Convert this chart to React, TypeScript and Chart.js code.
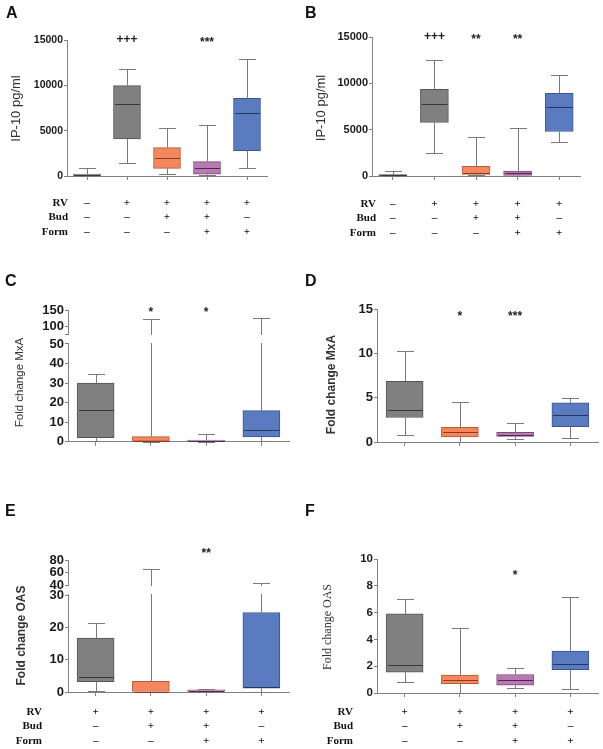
import React, { useEffect, useRef } from "react";
import { Chart, registerables } from "chart.js";
Chart.register(...registerables);

const SANS = "'Liberation Sans', Arial, Helvetica, sans-serif";
const SERIF = "'Liberation Serif', 'Times New Roman', Times, serif";

// ---------- condition rows under the x axis ----------
const rowNames = ["RV", "Bud", "Form"];
const rv5 = ["–", "+", "+", "+", "+"];
const bud5 = ["–", "–", "+", "+", "–"];
const form5 = ["–", "–", "–", "+", "+"];
const rv4 = ["+", "+", "+", "+"];
const bud4 = ["–", "+", "+", "–"];
const form4 = ["–", "–", "+", "+"];

// ---------- Panel A : IP-10 pg/ml ----------
const aMin = [0, 1400, 220, 75, 850];
const aQ1 = [20, 4080, 845, 200, 2795];
const aMed = [100, 7980, 2020, 920, 6985];
const aQ3 = [220, 9960, 3125, 1580, 8570];
const aMax = [850, 11760, 5330, 5625, 12900];
const aMarks = ["", "+++", "", "***", ""];
const aTicks = [0, 5000, 10000, 15000];

// ---------- Panel B : IP-10 pg/ml ----------
const bMin = [0, 2490, 100, 0, 3640];
const bQ1 = [10, 5770, 180, 70, 4800];
const bMed = [80, 7720, 290, 360, 7465];
const bQ3 = [150, 9340, 1045, 540, 8910];
const bMax = [500, 12480, 4255, 5230, 10930];
const bMarks = ["", "+++", "**", "**", ""];
const bTicks = [0, 5000, 10000, 15000];

// ---------- Panel C : Fold change MxA (broken axis) ----------
const cMin = [0.3, 0, 0, 0.3];
const cQ1 = [2.0, 0, 0.1, 2.4];
const cMed = [16.2, 0.3, 0.5, 6.0];
const cQ3 = [30, 2.6, 0.85, 15.9];
const cMax = [34.6, 121, 3.75, 124];
const cMarks = ["", "*", "*", ""];
const cLowerTicks = [0, 10, 20, 30, 40, 50];
const cUpperTicks = [100, 150];

// ---------- Panel D : Fold change MxA ----------
const dMin = [0.83, 0, 0.34, 0.49];
const dQ1 = [2.76, 0.57, 0.64, 1.74];
const dMed = [3.59, 1.13, 0.83, 3.02];
const dQ3 = [6.84, 1.66, 1.1, 4.42];
const dMax = [10.28, 4.53, 2.19, 4.99];
const dMarks = ["", "*", "***", ""];
const dTicks = [0, 5, 10, 15];

// ---------- Panel E : Fold change OAS (broken axis) ----------
const eMin = [0.2, 0, 0.1, 0.1];
const eQ1 = [3.2, 0, 0.15, 1.15];
const eMed = [4.6, 0.15, 0.4, 1.65];
const eQ3 = [16.7, 3.3, 0.7, 24.6];
const eMax = [21.2, 65, 0.95, 42.7];
const eMarks = ["", "", "**", ""];
const eLowerTicks = [0, 10, 20, 30];
const eUpperTicks = [40, 60, 80];

// ---------- Panel F : Fold change OAS ----------
const fMin = [0.8, 0, 0.38, 0.28];
const fQ1 = [1.55, 0.7, 0.58, 1.75];
const fMed = [2.1, 1.0, 1.0, 2.2];
const fQ3 = [5.9, 1.33, 1.38, 3.13];
const fMax = [7.0, 4.83, 1.88, 7.2];
const fMarks = ["", "", "*", ""];
const fTicks = [0, 2, 4, 6, 8, 10];

// ---------- styles ----------
const PALETTE = [
  { fill: "#808080", border: "#555555", median: "#383838" }, // grey
  { fill: "#F4875E", border: "#B55A3A", median: "#8A3B22" }, // orange
  { fill: "#B97AB3", border: "#7D4A78", median: "#4D2A4A" }, // purple
  { fill: "#5B7BC0", border: "#3B5590", median: "#24375F" }, // blue
];
const colors5 = [0, 0, 1, 2, 3];
const colors4 = [0, 1, 2, 3];
const AXIS = "#808080";
const WHISKER = "#7a7a7a";

type Spec = {
  letter: string; left: number; top: number; w: number; h: number;
  L: number; R: number; T: number; B: number;
  mins: number[]; q1: number[]; med: number[]; q3: number[]; maxs: number[];
  colors: number[]; marks: string[]; markY: number;
  lowerMax: number; lowerTicks: number[];
  upper?: { min: number; max: number; ticks: number[]; px: number };
  rows?: string[][]; rowX?: number; xPad: number;
  boxW: number; capW: number; yTickSize: number;
  title: string; titleFont: string; titleX: number; titleY: number;
  letterX: number; letterY: number;
};

const specs: Spec[] = [
  {
    letter: "A", left: 0, top: 0, w: 300, h: 250, L: 67, R: 267, T: 40, B: 176,
    mins: aMin, q1: aQ1, med: aMed, q3: aQ3, maxs: aMax, colors: colors5, marks: aMarks, markY: 15000,
    lowerMax: 15000, lowerTicks: aTicks, rows: [rv5, bud5, form5], rowX: 68, xPad: 16,
    boxW: 27, capW: 17, yTickSize: 10.5,
    title: "IP-10 pg/ml", titleFont: `13px ${SANS}`, titleX: 16.7, titleY: 108.5, letterX: 6, letterY: 18,
  },
  {
    letter: "B", left: 300, top: 0, w: 303, h: 250, L: 72, R: 280, T: 37, B: 176,
    mins: bMin, q1: bQ1, med: bMed, q3: bQ3, maxs: bMax, colors: colors5, marks: bMarks, markY: 15000,
    lowerMax: 15000, lowerTicks: bTicks, rows: [rv5, bud5, form5], rowX: 76, xPad: 17,
    boxW: 28, capW: 17, yTickSize: 11,
    title: "IP-10 pg/ml", titleFont: `13px ${SANS}`, titleX: 21.7, titleY: 108, letterX: 5, letterY: 18,
  },
  {
    letter: "C", left: 0, top: 250, w: 300, h: 250, L: 68, R: 289, T: 60, B: 191.7,
    mins: cMin, q1: cQ1, med: cMed, q3: cQ3, maxs: cMax, colors: colors4, marks: cMarks, markY: 150,
    lowerMax: 55.1, lowerTicks: cLowerTicks, upper: { min: 75, max: 150, ticks: cUpperTicks, px: 24 },
    xPad: 8, boxW: 37, capW: 17, yTickSize: 13,
    title: "Fold change MxA", titleFont: `11.5px ${SANS}`, titleX: 20, titleY: 132.5, letterX: 5, letterY: 36,
  },
  {
    letter: "D", left: 300, top: 250, w: 303, h: 250, L: 77, R: 298, T: 59, B: 192,
    mins: dMin, q1: dQ1, med: dMed, q3: dQ3, maxs: dMax, colors: colors4, marks: dMarks, markY: 14.5,
    lowerMax: 15, lowerTicks: dTicks, xPad: 8, boxW: 37, capW: 17, yTickSize: 13,
    title: "Fold change MxA", titleFont: `bold 12px ${SANS}`, titleX: 31.7, titleY: 134.5, letterX: 5, letterY: 36,
  },
  {
    letter: "E", left: 0, top: 500, w: 300, h: 249, L: 68, R: 289, T: 60, B: 192,
    mins: eMin, q1: eQ1, med: eMed, q3: eQ3, maxs: eMax, colors: colors4, marks: eMarks, markY: 95,
    lowerMax: 33.1, lowerTicks: eLowerTicks, upper: { min: 40, max: 80, ticks: eUpperTicks, px: 25 },
    rows: [rv4, bud4, form4], rowX: 42, xPad: 9, boxW: 37, capW: 17, yTickSize: 13,
    title: "Fold change OAS", titleFont: `bold 12px ${SANS}`, titleX: 21.7, titleY: 135.5, letterX: 5, letterY: 16,
  },
  {
    letter: "F", left: 300, top: 500, w: 303, h: 249, L: 77, R: 298, T: 59, B: 193,
    mins: fMin, q1: fQ1, med: fMed, q3: fQ3, maxs: fMax, colors: colors4, marks: fMarks, markY: 8.95,
    lowerMax: 10, lowerTicks: fTicks, rows: [rv4, bud4, form4], rowX: 53, xPad: 8,
    boxW: 37, capW: 17, yTickSize: 11.5,
    title: "Fold change OAS", titleFont: `12px ${SERIF}`, titleX: 28, titleY: 127, letterX: 5, letterY: 16,
  },
];

const X_LABEL_SIZE = 11;
const X_LINE_H = 1.3;
const X_TICK_LEN = 4;

function makePlugin(s: Spec) {
  const n = s.q1.length;
  const lowerTop = s.lowerTicks[s.lowerTicks.length - 1];
  const pixelY = (chart: any, v: number) => {
    const lo = chart.scales.y;
    const up = chart.scales.y2;
    return up && v > lowerTop ? up.getPixelForValue(v) : lo.getPixelForValue(v);
  };
  return {
    id: "boxplot" + s.letter,
    afterDatasetsDraw(chart: any) {
      const ctx = chart.ctx;
      const xs = chart.scales.x;
      ctx.save();
      ctx.lineWidth = 1;
      for (let i = 0; i < n; i++) {
        const x = Math.round(xs.getPixelForValue(i)) + 0.5;
        const yMax = Math.round(pixelY(chart, s.maxs[i])) + 0.5;
        const yQ3 = pixelY(chart, s.q3[i]);
        const yQ1 = pixelY(chart, s.q1[i]);
        const yMin = Math.round(pixelY(chart, s.mins[i])) + 0.5;
        ctx.strokeStyle = WHISKER;
        ctx.beginPath();
        ctx.moveTo(x, yMax);
        ctx.lineTo(x, yQ3);
        ctx.moveTo(x, yQ1);
        ctx.lineTo(x, yMin);
        ctx.moveTo(x - s.capW / 2, yMax);
        ctx.lineTo(x + s.capW / 2, yMax);
        ctx.moveTo(x - s.capW / 2, yMin);
        ctx.lineTo(x + s.capW / 2, yMin);
        ctx.stroke();
        const yMed = Math.round(pixelY(chart, s.med[i])) + 0.5;
        ctx.strokeStyle = PALETTE[s.colors[i]].median;
        ctx.beginPath();
        ctx.moveTo(x - s.boxW / 2 + 1, yMed);
        ctx.lineTo(x + s.boxW / 2 - 1, yMed);
        ctx.stroke();
      }
      ctx.restore();
    },
    afterDraw(chart: any) {
      const ctx = chart.ctx;
      const xs = chart.scales.x;
      const area = chart.chartArea;
      ctx.save();
      // axis break gap
      if (s.upper && chart.scales.y2) {
        const up = chart.scales.y2;
        const lo = chart.scales.y;
        const g0 = up.bottom + 1;
        const g1 = lo.getPixelForValue(lowerTop) - 1;
        ctx.fillStyle = "#ffffff";
        ctx.fillRect(area.left - 3, g0, area.right - area.left + 6, g1 - g0);
      }
      // row names
      if (s.rows) {
        ctx.font = `bold ${X_LABEL_SIZE}px ${SERIF}`;
        ctx.fillStyle = "#111";
        ctx.textAlign = "right";
        ctx.textBaseline = "middle";
        const lh = X_LABEL_SIZE * X_LINE_H;
        const y0 = xs.top + X_TICK_LEN + s.xPad + lh / 2;
        rowNames.forEach((nm, r) => ctx.fillText(nm, s.rowX!, y0 + r * lh));
      }
      // significance marks
      ctx.font = `bold 12px ${SANS}`;
      ctx.fillStyle = "#222";
      ctx.textAlign = "center";
      ctx.textBaseline = "middle";
      s.marks.forEach((m, i) => {
        if (!m) return;
        const x = xs.getPixelForValue(i);
        const y = pixelY(chart, s.markY) + (m.includes("*") ? 3 : 0);
        ctx.fillText(m, x, y);
      });
      // y title
      ctx.save();
      ctx.translate(s.titleX, s.titleY);
      ctx.rotate(-Math.PI / 2);
      ctx.font = s.titleFont;
      ctx.fillStyle = "#333";
      ctx.textAlign = "center";
      ctx.textBaseline = "middle";
      ctx.fillText(s.title, 0, 0);
      ctx.restore();
      // panel letter
      ctx.font = `bold 16px ${SANS}`;
      ctx.fillStyle = "#111";
      ctx.textAlign = "left";
      ctx.textBaseline = "alphabetic";
      ctx.fillText(s.letter, s.letterX, s.letterY);
      ctx.restore();
    },
  };
}

function buildConfig(s: Spec): any {
  const n = s.q1.length;
  const labels = Array.from({ length: n }, (_, i) => (s.rows ? s.rows.map((r) => r[i]) : ""));
  const tickGrid = {
    display: true, drawOnChartArea: false, drawTicks: true, tickLength: X_TICK_LEN,
    color: AXIS, lineWidth: 1, offset: false,
  };
  const yGrid = { ...tickGrid, tickLength: 3 };
  const border = { display: true, color: AXIS, width: 1 };
  const yTicks = {
    padding: 1, color: "#1a1a1a", autoSkip: false,
    font: { family: SANS, size: s.yTickSize, weight: "bold" },
  };
  const scales: any = {
    x: {
      type: "category", position: "bottom", offset: true,
      grid: tickGrid, border,
      ticks: {
        display: !!s.rows, autoSkip: false, maxRotation: 0, minRotation: 0, padding: s.xPad,
        color: "#111", font: { family: SERIF, size: X_LABEL_SIZE, weight: "bold", lineHeight: X_LINE_H },
      },
      afterFit: (sc: any) => { sc.height = s.h - s.B; },
    },
    y: {
      type: "linear", position: "left", min: 0, max: s.lowerMax, weight: 0,
      grid: yGrid, border,
      ticks: { ...yTicks, callback: (v: any) => String(v) },
      afterBuildTicks: (sc: any) => { sc.ticks = s.lowerTicks.map((v) => ({ value: v })); },
      afterFit: (sc: any) => { sc.width = s.L; },
    },
  };
  if (s.upper) {
    const up = s.upper;
    const lowerPx = s.B - s.T - up.px;
    scales.y.stack = "brk";
    scales.y.stackWeight = lowerPx;
    scales.y2 = {
      type: "linear", position: "left", min: up.min, max: up.max, weight: 1,
      stack: "brk", stackWeight: up.px,
      grid: yGrid, border,
      ticks: { ...yTicks, callback: (v: any) => (up.ticks.includes(v) ? String(v) : "") },
      afterBuildTicks: (sc: any) => {
        const vals = up.ticks.includes(up.min) ? up.ticks : [up.min, ...up.ticks];
        sc.ticks = vals.map((v) => ({ value: v }));
      },
      afterFit: (sc: any) => { sc.width = s.L; },
    };
  }
  return {
    type: "bar",
    data: {
      labels,
      datasets: [
        {
          data: s.q1.map((v, i) => [v, s.q3[i]]),
          backgroundColor: s.colors.map((c) => PALETTE[c].fill),
          borderColor: s.colors.map((c) => PALETTE[c].border),
          borderWidth: 1,
          borderSkipped: false,
          barThickness: s.boxW,
          yAxisID: "y",
        },
      ],
    },
    options: {
      responsive: false,
      maintainAspectRatio: false,
      animation: false,
      events: [],
      layout: { padding: { left: 0, top: s.T, right: s.w - s.R, bottom: 0 } },
      plugins: { legend: { display: false }, tooltip: { enabled: false } },
      scales,
    },
    plugins: [makePlugin(s)],
  };
}

function Panel({ spec }: { spec: Spec }) {
  const ref = useRef<HTMLCanvasElement>(null);
  useEffect(() => {
    const chart = new Chart(ref.current as HTMLCanvasElement, buildConfig(spec));
    return () => chart.destroy();
  }, [spec]);
  return (
    <canvas
      ref={ref}
      width={spec.w}
      height={spec.h}
      style={{ position: "absolute", left: spec.left, top: spec.top, width: spec.w, height: spec.h }}
    />
  );
}

export default function App() {
  return (
    <div style={{ position: "absolute", left: 0, top: 0, width: 603, height: 749, background: "#fff", overflow: "hidden" }}>
      {specs.map((s) => (
        <Panel key={s.letter} spec={s} />
      ))}
    </div>
  );
}
